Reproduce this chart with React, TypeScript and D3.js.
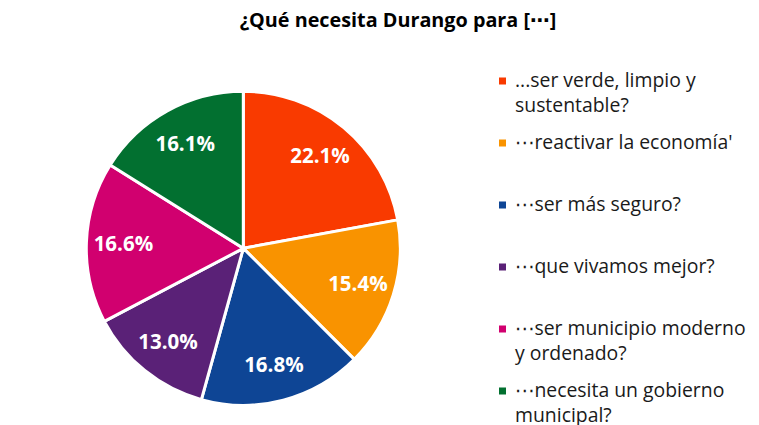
import React from "react";
import * as d3 from "d3";

const categories = [
  "...ser verde, limpio y|sustentable?",
  "\u22EFreactivar la economía'",
  "\u22EFser más seguro?",
  "\u22EFque vivamos mejor?",
  "\u22EFser municipio moderno|y ordenado?",
  "\u22EFnecesita un gobierno|municipal?",
];
const values = [22.1, 15.4, 16.8, 13.0, 16.6, 16.1];
const colors = ["#F93A00", "#F99300", "#0E4595", "#5A2177", "#D1006F", "#027030"];
const title = "¿Qué necesita Durango para [\u22EF]";

const W = 759;
const H = 425;
const cx = 243.3;
const cy = 248.3;
const R = 157;
const labelR = 120;

export default function App() {
  const pie = d3.pie<number>().sort(null).value((d) => d)(values);
  const arc = d3.arc<d3.PieArcDatum<number>>().innerRadius(0).outerRadius(R);
  const labelArc = d3.arc<d3.PieArcDatum<number>>().innerRadius(labelR).outerRadius(labelR);
  const legendY = d3.scaleLinear().domain([0, 5]).range([81, 391]);
  const font = "'Open Sans', 'DejaVu Sans', sans-serif";
  return (
    <svg width={W} height={H} style={{ position: "absolute", left: 0, top: 0, background: "#fff" }} fontFamily={font}>
      <text x={398} y={27} textAnchor="middle" fontSize={19.8} fontWeight="bold" fill="#000">
        {title}
      </text>
      <g transform={`translate(${cx},${cy})`}>
        {pie.map((p, i) => (
          <path key={i} d={arc(p) || ""} fill={colors[i]} stroke="#fff" strokeWidth={3} strokeLinejoin="round" />
        ))}
        {pie.map((p, i) => {
          const [x, y] = labelArc.centroid(p);
          return (
            <text key={i} x={x} y={y} dy="0.36em" textAnchor="middle" fontSize={20.5} fontWeight="bold" fill="#fff">
              {values[i].toFixed(1)}%
            </text>
          );
        })}
      </g>
      <g>
        {categories.map((c, i) => {
          const y = legendY(i);
          const lines = c.split("|");
          return (
            <g key={i}>
              <rect x={499} y={y - 3.5} width={7} height={7} fill={colors[i]} />
              {lines.map((ln, j) => (
                <text key={j} x={515} y={y + 5.8 + j * 24.8} fontSize={19.4} fill="#1a1a1a">
                  {ln}
                </text>
              ))}
            </g>
          );
        })}
      </g>
    </svg>
  );
}
